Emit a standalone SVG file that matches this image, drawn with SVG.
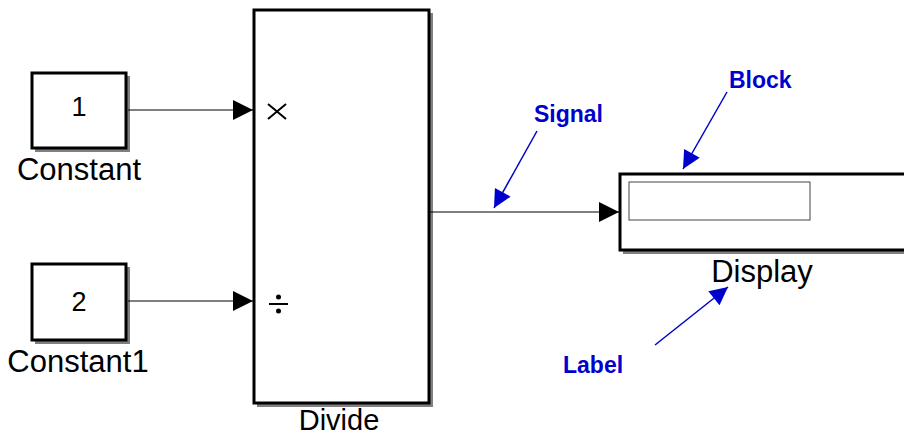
<svg xmlns="http://www.w3.org/2000/svg" width="904" height="436" viewBox="0 0 904 436">
<style>
.blk{fill:#fff;stroke:#000;stroke-width:3}
.shd{fill:#808080}
.lbl{font-family:"Liberation Sans",Arial,sans-serif;font-size:31px;fill:#000;text-anchor:middle}
.val{font-family:"Liberation Sans",Arial,sans-serif;font-size:27px;fill:#000;text-anchor:middle}
.note{font-family:"Liberation Sans",Arial,sans-serif;font-size:23px;font-weight:bold;fill:#0000CC}
.sig{stroke:#000;stroke-width:1;fill:none}
.ann{stroke:#0000CC;stroke-width:1.5;fill:none}
</style>
<defs>
<marker id="ah" viewBox="0 0 10 10" refX="10" refY="5" markerWidth="26" markerHeight="20" markerUnits="userSpaceOnUse" orient="auto">
<path d="M0,0 L10,5 L0,10 z" fill="#000"/>
</marker>
<marker id="bh" viewBox="0 0 10 10" refX="10" refY="5" markerWidth="20" markerHeight="18" markerUnits="userSpaceOnUse" orient="auto">
<path d="M0,0 L10,5 L0,10 z" fill="#0000CC"/>
</marker>
</defs>
<g id="constant">
<rect class="shd" x="35" y="76" width="95" height="76"/>
<rect class="blk" x="32" y="73" width="94" height="75"/>
<text class="val" x="79" y="116">1</text>
<text class="lbl" x="79" y="180">Constant</text>
</g>
<g id="constant1">
<rect class="shd" x="35" y="267" width="95" height="77"/>
<rect class="blk" x="32" y="264" width="94" height="76"/>
<text class="val" x="79" y="311">2</text>
<text class="lbl" x="78" y="372">Constant1</text>
</g>
<g id="divide">
<rect class="shd" x="257" y="13" width="176" height="394"/>
<rect class="blk" x="254" y="10" width="175" height="393"/>
<path d="M268,104 L286,119 M286,104 L268,119" stroke="#000" stroke-width="2"/>
<line x1="269" y1="304" x2="288" y2="304" stroke="#000" stroke-width="2"/>
<circle cx="278.5" cy="297" r="2.5" fill="#000"/>
<circle cx="278.5" cy="311" r="2.5" fill="#000"/>
<text class="lbl" x="339" y="430" style="font-size:29px">Divide</text>
</g>
<g id="display">
<rect class="shd" x="623" y="177" width="290" height="77"/>
<rect class="blk" x="620" y="174" width="290" height="76"/>
<rect x="629" y="182" width="181" height="38" fill="#fff" stroke="#444" stroke-width="1"/>
<text class="lbl" x="762" y="282">Display</text>
</g>
<g id="connectors">
<line class="sig" x1="128" y1="110" x2="253" y2="110" marker-end="url(#ah)"/>
<line class="sig" x1="128" y1="301" x2="253" y2="301" marker-end="url(#ah)"/>
<line class="sig" x1="430" y1="212" x2="619" y2="212" marker-end="url(#ah)"/>
<line class="ann" x1="537" y1="131" x2="494" y2="208" marker-end="url(#bh)"/>
<line class="ann" x1="727" y1="92" x2="683" y2="169" marker-end="url(#bh)"/>
<line class="ann" x1="655" y1="345" x2="728" y2="287" marker-end="url(#bh)"/>
</g>
<g id="annotations">
<text class="note" x="534" y="122">Signal</text>
<text class="note" x="729" y="88">Block</text>
<text class="note" x="563" y="373">Label</text>
</g>
</svg>
